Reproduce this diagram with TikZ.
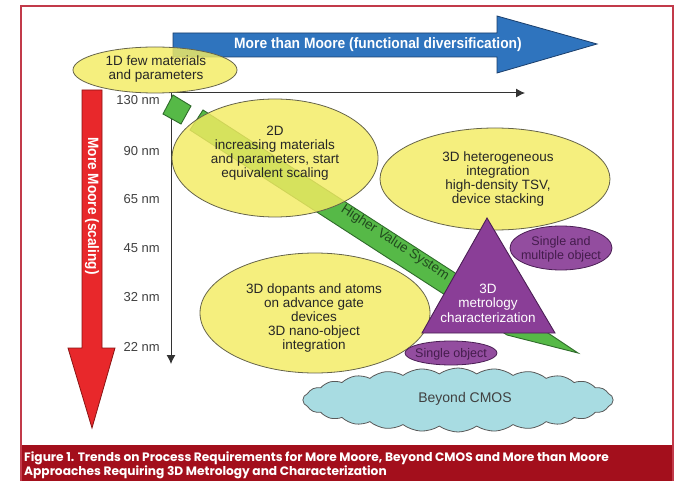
\documentclass[tikz,border=0pt]{standalone}
\usepackage{fontspec}
\setmainfont{Liberation Sans}
\newfontfamily\capfont{Poppins}
\usetikzlibrary{shapes.geometric,shapes.symbols,arrows.meta}

\definecolor{framered}{HTML}{C23A4A}
\definecolor{capred}{HTML}{A30F1C}
\definecolor{lemon}{HTML}{F3EC62}
\definecolor{olive}{HTML}{66644A}
\definecolor{leaf}{HTML}{56B947}
\definecolor{leafdark}{HTML}{2F6B2B}
\definecolor{violet}{HTML}{8A3E97}
\definecolor{violetdark}{HTML}{4B1F55}
\definecolor{mtmblue}{HTML}{2F74BE}
\definecolor{mtmdark}{HTML}{1B3F6C}
\definecolor{scalered}{HTML}{E8282B}
\definecolor{scaledark}{HTML}{8A1414}
\definecolor{sky}{HTML}{A8DCE2}

\tikzset{
  blob/.style={ellipse, draw=olive, line width=0.8pt, fill=lemon, fill opacity=0.82, inner sep=0pt},
  blobtext/.style={align=center, inner sep=0pt, font=\fontsize{13.5}{14}\selectfont, text=black!85},
  purpleblob/.style={ellipse, draw=violetdark, line width=0.8pt, fill=violet!92, inner sep=0pt},
  purpletext/.style={align=center, inner sep=0pt, font=\fontsize{12.5}{14}\selectfont, text=violetdark!90!black},
  tick/.style={anchor=east, inner sep=0pt, font=\fontsize{13}{14}\selectfont, text=black!75},
  axis/.style={draw=black!80, line width=1pt, -{Latex[length=9pt,width=9pt]}},
  bigarrowtext/.style={inner sep=0pt, text=white, font=\fontsize{15}{16}\selectfont\bfseries}
}

\begin{document}
\begin{tikzpicture}[x=1pt,y=1pt,yscale=-1,xscale=1]

  \useasboundingbox (0,0) rectangle (677,481);
  \fill[white] (0,0) rectangle (677,481);

  % Frame and caption
  \fill[capred] (21,445) rectangle (673,481);
  \draw[framered, line width=1.2pt] (21,481) -- (21,6) -- (673,6) -- (673,481);
  \node[anchor=west, align=left, inner sep=0pt, text=white,
        font=\capfont\bfseries\fontsize{12.2}{12.5}\selectfont] (caption) at (24,465)
    {Figure 1. Trends on Process Requirements for More Moore, Beyond CMOS and More than Moore\\
     Approaches Requiring 3D Metrology and Characterization};

  % Axes
  \coordinate (origin) at (171,93);
  \coordinate (xend) at (525,93);
  \coordinate (yend) at (171,364);
  \draw[axis] (origin) -- (xend);
  \draw[axis] (origin) -- (yend);

  % Node sizes
  \foreach \nm/\yy in {130/100, 90/151, 65/199, 45/248, 32/297, 22/347}
    \node[tick] (node\nm) at (160,\yy) {\nm\ nm};

  % Higher value band
  \draw[leafdark, line width=0.9pt, fill=leaf]
    (203,110) -- (548,333) -- (578,353) -- (507,335) -- (190,130) -- cycle;
  \draw[leafdark, line width=0.9pt, fill=leaf]
    (173,95) -- (191,106) -- (181,124) -- (163,114) -- cycle;
  \node[rotate=-33, inner sep=0pt, text=leafdark!70!black,
        font=\fontsize{13.5}{14}\selectfont] (hvs) at (395,243) {Higher Value System};

  % Yellow ellipses
  \node[blob, minimum width=206, minimum height=118] (twod) at (275,158) {};
  \node[blobtext] (twodtext) at (275,153)
    {2D\\increasing materials\\and parameters, start\\equivalent scaling};

  \node[blob, minimum width=230, minimum height=102] (hetero) at (495,179) {};
  \node[blobtext] (heterotext) at (498,179)
    {3D heterogeneous\\integration\\high-density TSV,\\device stacking};

  \node[blob, minimum width=230, minimum height=120] (dopant) at (315,313) {};
  \node[blobtext] (dopanttext) at (314,318)
    {3D dopants and atoms\\on advance gate\\devices\\3D nano-object\\integration};

  % Metrology triangle
  \coordinate (apex) at (487,218);
  \coordinate (baseleft) at (422,333);
  \coordinate (baseright) at (555,333);
  \draw[violetdark, line width=0.9pt, fill=violet] (apex) -- (baseleft) -- (baseright) -- cycle;
  \node[blobtext, text=white, font=\fontsize{13.5}{14.5}\selectfont] (metro) at (488,303)
    {3D\\metrology\\characterization};

  % Purple ellipses
  \node[purpleblob, minimum width=102, minimum height=44] (multi) at (561,248) {};
  \node[purpletext] (multitext) at (561,249) {Single and\\multiple object};
  \node[purpleblob, minimum width=92, minimum height=24] (single) at (451,353) {};
  \node[purpletext] (singletext) at (451,354) {Single object};

  % Beyond CMOS cloud
  \node[cloud, cloud puffs=26, cloud puff arc=70, draw=black!65, line width=0.8pt,
        fill=sky, minimum width=310, minimum height=64] (cmos) at (458,400) {};
  \node[blobtext, font=\fontsize{14}{15}\selectfont, text=black!75] (cmostext) at (465,399) {Beyond CMOS};

  % More Moore arrow
  \draw[scaledark, line width=0.8pt, fill=scalered]
    (82,90) -- (102,90) -- (102,348) -- (115,348) -- (92,428) -- (68,348) -- (82,348) -- cycle;
  \node[bigarrowtext, rotate=-90] (moore) at (92,206) {\scalebox{0.91}[1]{More Moore (scaling)}};

  % More than Moore arrow
  \draw[mtmdark, line width=0.8pt, fill=mtmblue]
    (173,33) -- (497,33) -- (497,16) -- (597,44) -- (497,73) -- (497,57) -- (173,57) -- cycle;
  \node[bigarrowtext] (mtm) at (378,45) {\scalebox{0.92}[1]{More than Moore (functional diversification)}};

  % 1D ellipse
  \node[blob, minimum width=164, minimum height=46] (oned) at (155,70) {};
  \node[blobtext] (onedtext) at (156,69) {1D few materials\\and parameters};

\end{tikzpicture}
\end{document}
